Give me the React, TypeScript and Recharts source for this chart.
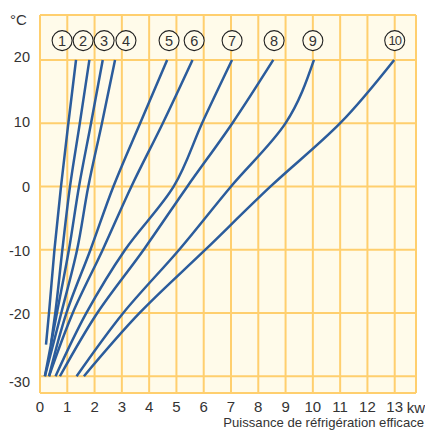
import React from 'react';
import {
  ComposedChart,
  Line,
  Scatter,
  XAxis,
  YAxis,
  CartesianGrid,
  ReferenceLine,
} from 'recharts';

const TEMPS = [20, 10, 0, -10, -20];

// effective cooling power (kW) for each curve at TEMPS
const curve1 = [1.32, 1.04, 0.77, 0.53, 0.33];
const curve2 = [1.81, 1.46, 1.1, 0.82, 0.56];
const curve3 = [2.3, 1.87, 1.43, 1.06, 0.62];
const curve4 = [2.75, 2.27, 1.77, 1.36, 0.78];
const curve5 = [4.66, 3.67, 2.69, 1.85, 0.97];
const curve6 = [5.59, 4.5, 3.35, 2.3, 1.2];
const curve7 = [7.04, 5.94, 4.9, 3.12, 1.7];
const curve8 = [8.55, 7.05, 5.4, 3.8, 2.1];
const curve9 = [10.04, 9.0, 7.0, 5.1, 3.05];
const curve10 = [12.98, 11.0, 8.45, 6.06, 3.65];

// lower end of each curve
const END_TEMP = [-25, -25, -30, -30, -30, -30, -30, -30, -30, -30];
const END_KW = [0.22, 0.4, 0.18, 0.18, 0.33, 0.33, 0.57, 0.73, 1.34, 1.61];

// numbered badges above the curves
const BADGES = ['1', '2', '3', '4', '5', '6', '7', '8', '9', '10'];
const BADGE_KW = [0.81, 1.58, 2.35, 3.15, 4.73, 5.65, 7.04, 8.58, 10.0, 13.0];
const BADGE_TEMP = 23.05;

const X_TICKS = [0, 1, 2, 3, 4, 5, 6, 7, 8, 9, 10, 11, 12, 13];
const Y_TICKS = [-30, -20, -10, 0, 10, 20];
const X_MAX = 13.78;
const Y_MIN = -32.65;
const Y_MAX = 27.1;

const CURVES = [curve1, curve2, curve3, curve4, curve5, curve6, curve7, curve8, curve9, curve10];

const series = CURVES.map((kw, i) => {
  const pts = TEMPS.map((t, j) => ({ x: kw[j], y: t })).reverse();
  return [{ x: END_KW[i], y: END_TEMP[i] }, ...pts];
});

const badgeData = BADGES.map((n, i) => ({ x: BADGE_KW[i], y: BADGE_TEMP, n }));

const FONT = '"Liberation Sans", Arial, sans-serif';
const BLUE = '#2b5c9c';
const GRID = '#ffcf6e';

// the printed labels sit a little off the gridlines at the ends
const Y_LABEL_SHIFT: Record<number, number> = { 20: -3, 10: -1, 0: 0, '-10': 1, '-20': 1, '-30': 6 };

const YTick = (props: any) => {
  const { x, y, payload } = props;
  const shift = Y_LABEL_SHIFT[payload.value] ?? 0;
  return (
    <text x={x} y={y + shift} dy="0.355em" textAnchor="end" fill="#333" fontSize={14.5} fontFamily={FONT}>
      {payload.value}
    </text>
  );
};

const Badge = (props: any) => {
  const { cx, cy, payload } = props;
  return (
    <g>
      <circle cx={cx} cy={cy} r={10} fill="#fffbea" stroke="#222" strokeWidth={1.1} />
      <text
        x={cx}
        y={cy}
        dy="0.36em"
        textAnchor="middle"
        fill="#333"
        fontSize={payload.n.length > 1 ? 13 : 14.5}
        fontFamily={FONT}
        letterSpacing={payload.n.length > 1 ? -1 : 0}
      >
        {payload.n}
      </text>
    </g>
  );
};

export default function App() {
  return (
    <div style={{ position: 'absolute', left: 0, top: 0, width: 425, height: 430, background: '#fff', fontFamily: FONT }}>
      <ComposedChart width={425} height={430} margin={{ top: 15, right: 9, bottom: 0, left: 0 }}>
        <CartesianGrid stroke={GRID} strokeWidth={2} fill="#fffbea" />
        <XAxis
          type="number"
          dataKey="x"
          domain={[0, X_MAX]}
          ticks={X_TICKS}
          allowDataOverflow
          axisLine={false}
          tickLine={false}
          height={37}
          interval={0}
          tick={{ fill: '#333', fontSize: 15, fontFamily: FONT }}
        />
        <YAxis
          type="number"
          dataKey="y"
          domain={[Y_MIN, Y_MAX]}
          ticks={Y_TICKS}
          allowDataOverflow
          axisLine={false}
          tickLine={false}
          width={40}
          tickMargin={4}
          interval={0}
          tick={<YTick />}
        />
        <ReferenceLine x={X_MAX} stroke={GRID} strokeWidth={2} />
        <ReferenceLine y={Y_MAX} stroke={GRID} strokeWidth={2} />
        <ReferenceLine y={Y_MIN} stroke={GRID} strokeWidth={2} />
        {series.map((data, i) => (
          <Line
            key={i}
            data={data}
            dataKey="y"
            type="monotoneY"
            stroke={BLUE}
            strokeWidth={2.5}
            dot={false}
            activeDot={false}
            isAnimationActive={false}
          />
        ))}
        <Scatter data={badgeData} dataKey="y" shape={<Badge />} isAnimationActive={false} />
      </ComposedChart>
      <div style={{ position: 'absolute', left: 10, top: 12, fontSize: 15, lineHeight: '15px', color: '#333' }}>°C</div>
      <div style={{ position: 'absolute', left: 406, top: 400, width: 20, textAlign: 'center', fontSize: 15, lineHeight: '15px', color: '#333' }}>
        kw
      </div>
      <div style={{ position: 'absolute', right: 1, top: 416, fontSize: 13.1, lineHeight: '14px', color: '#333', whiteSpace: 'nowrap' }}>
        Puissance de réfrigération efficace
      </div>
    </div>
  );
}
